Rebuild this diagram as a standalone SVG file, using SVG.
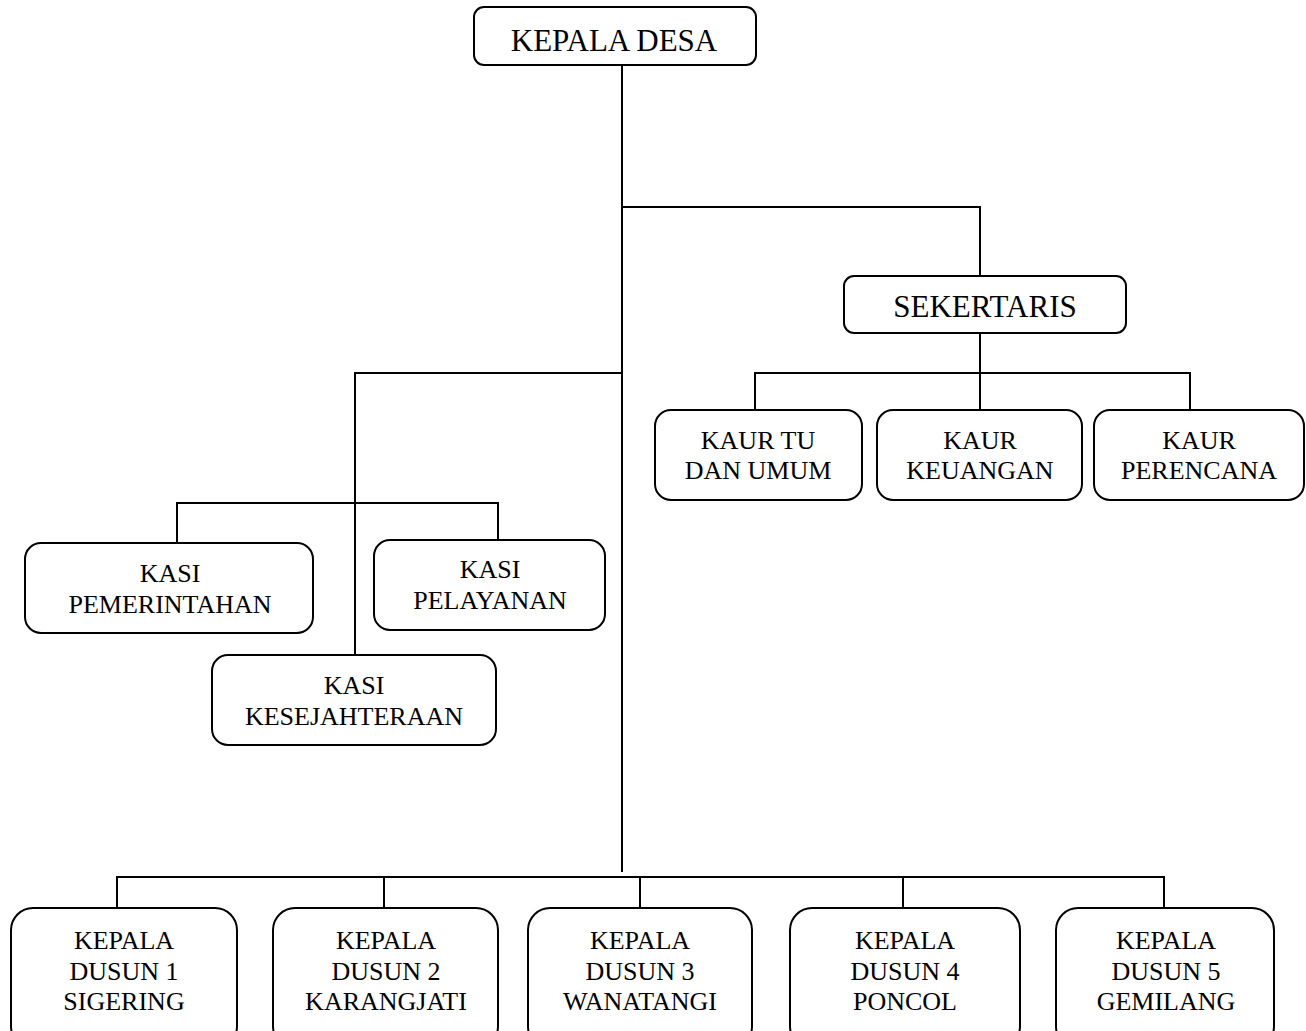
<svg xmlns="http://www.w3.org/2000/svg" width="1306" height="1031" viewBox="0 0 1306 1031">
<style>
.box{fill:#fff;stroke:#000;stroke-width:2}
.ln{fill:none;stroke:#000;stroke-width:2}
.t{font-family:"Liberation Serif","Times New Roman",serif;font-size:26px;text-anchor:middle;fill:#000}
.big{font-size:31px}
</style>
<rect width="1306" height="1031" fill="#fff"/>
<g id="connectors">
<path class="ln" d="M622 65V872M622 207H980V276M980 333V410M755 410V373H1190V410M355 655V373H622M177 543V503H498V540M117 908V877H1164V908M384 877V908M640 877V908M903 877V908"/>
</g>
<g id="kepala-desa"><rect class="box" x="474" y="7" width="282" height="58" rx="10"/><text class="t big" x="614" y="51">KEPALA DESA</text></g>
<g id="sekertaris"><rect class="box" x="844" y="276" width="282" height="57" rx="10"/><text class="t big" x="985" y="317">SEKERTARIS</text></g>
<g id="kaur-tu"><rect class="box" x="655" y="410" width="207" height="90" rx="16"/><text class="t" x="758" y="449">KAUR TU</text><text class="t" x="758" y="479">DAN UMUM</text></g>
<g id="kaur-keuangan"><rect class="box" x="877" y="410" width="205" height="90" rx="16"/><text class="t" x="980" y="449">KAUR</text><text class="t" x="980" y="479">KEUANGAN</text></g>
<g id="kaur-perencana"><rect class="box" x="1094" y="410" width="210" height="90" rx="16"/><text class="t" x="1199" y="449">KAUR</text><text class="t" x="1199" y="479">PERENCANA</text></g>
<g id="kasi-pemerintahan"><rect class="box" x="25" y="543" width="288" height="90" rx="16"/><text class="t" x="170" y="582">KASI</text><text class="t" x="170" y="613">PEMERINTAHAN</text></g>
<g id="kasi-pelayanan"><rect class="box" x="374" y="540" width="231" height="90" rx="16"/><text class="t" x="490" y="578">KASI</text><text class="t" x="490" y="609">PELAYANAN</text></g>
<g id="kasi-kesejahteraan"><rect class="box" x="212" y="655" width="284" height="90" rx="16"/><text class="t" x="354" y="694">KASI</text><text class="t" x="354" y="725">KESEJAHTERAAN</text></g>
<g id="dusun-1"><rect class="box" x="11" y="908" width="226" height="140" rx="22"/><text class="t" x="124" y="949">KEPALA</text><text class="t" x="124" y="980">DUSUN 1</text><text class="t" x="124" y="1010">SIGERING</text></g>
<g id="dusun-2"><rect class="box" x="273" y="908" width="225" height="140" rx="22"/><text class="t" x="386" y="949">KEPALA</text><text class="t" x="386" y="980">DUSUN 2</text><text class="t" x="386" y="1010">KARANGJATI</text></g>
<g id="dusun-3"><rect class="box" x="528" y="908" width="224" height="140" rx="22"/><text class="t" x="640" y="949">KEPALA</text><text class="t" x="640" y="980">DUSUN 3</text><text class="t" x="640" y="1010">WANATANGI</text></g>
<g id="dusun-4"><rect class="box" x="790" y="908" width="230" height="140" rx="22"/><text class="t" x="905" y="949">KEPALA</text><text class="t" x="905" y="980">DUSUN 4</text><text class="t" x="905" y="1010">PONCOL</text></g>
<g id="dusun-5"><rect class="box" x="1056" y="908" width="218" height="140" rx="22"/><text class="t" x="1166" y="949">KEPALA</text><text class="t" x="1166" y="980">DUSUN 5</text><text class="t" x="1166" y="1010">GEMILANG</text></g>
</svg>
